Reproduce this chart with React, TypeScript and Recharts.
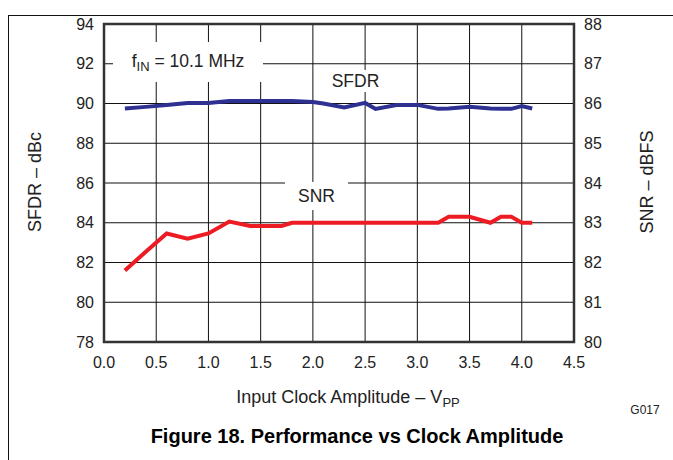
import { ComposedChart, Line, XAxis, YAxis, CartesianGrid, ReferenceArea } from 'recharts';

// Input clock amplitude (Vpp) where the curves were sampled
const amplitude = [0.2, 0.4, 0.6, 0.8, 1.0, 1.2, 1.4, 1.6, 1.7, 1.8, 2.0, 2.1, 2.3, 2.5, 2.6, 2.8, 3.0, 3.2, 3.3, 3.5, 3.7, 3.8, 3.9, 4.0, 4.1];
// SFDR, dBc (left axis)
const sfdr = [89.75, 89.83, 89.92, 90.02, 90.03, 90.12, 90.13, 90.13, 90.13, 90.13, 90.07, 90.0, 89.8, 90.03, 89.73, 89.92, 89.93, 89.73, 89.75, 89.83, 89.75, 89.73, 89.73, 89.87, 89.75];
// SNR, dBFS (right axis)
const snr = [81.8, 82.27, 82.73, 82.6, 82.73, 83.03, 82.92, 82.92, 82.92, 83.0, 83.0, 83.0, 83.0, 83.0, 83.0, 83.0, 83.0, 83.0, 83.15, 83.15, 83.0, 83.15, 83.15, 83.0, 83.0];

const xTicks = [0, 0.5, 1.0, 1.5, 2.0, 2.5, 3.0, 3.5, 4.0, 4.5];
const sfdrTicks = [78, 80, 82, 84, 86, 88, 90, 92, 94];
const snrTicks = [80, 81, 82, 83, 84, 85, 86, 87, 88];

const data = amplitude.map((a, i) => ({ amplitude: a, sfdr: sfdr[i], snr: snr[i] }));

const FONT = '"Liberation Sans", Arial, sans-serif';
const tickStyle = { fill: '#222', fontSize: 16, fontFamily: FONT };

const box = (left: number, top: number, width: number, height: number): React.CSSProperties => ({
  position: 'absolute', left, top, width, height, background: '#fff',
  display: 'flex', alignItems: 'center', justifyContent: 'center',
  fontFamily: FONT, fontSize: 17.5, color: '#222',
});

const title = (left: number, top: number, size: number, rotate = false): React.CSSProperties => ({
  position: 'absolute', left, top, whiteSpace: 'nowrap', fontFamily: FONT, fontSize: size, color: '#222',
  transform: `translate(-50%, -50%)${rotate ? ' rotate(-90deg)' : ''}`,
});

export default function App() {
  return (
    <div style={{ position: 'absolute', left: 0, top: 0, width: 673, height: 460, overflow: 'hidden', background: '#fff' }}>
      {/* page frame */}
      <div style={{ position: 'absolute', left: 8, top: 15, width: 700, height: 500, borderLeft: '1px solid #111', borderTop: '1px solid #111' }} />

      <ComposedChart width={673} height={460} data={data} margin={{ top: 24, right: 39, bottom: 88, left: 44 }}>
        <CartesianGrid yAxisId="left" stroke="#111" strokeWidth={1} />
        <XAxis
          dataKey="amplitude"
          type="number"
          domain={[0, 4.5]}
          ticks={xTicks}
          height={30}
          axisLine={false}
          tickLine={false}
          tickMargin={9}
          tickFormatter={(v: number) => v.toFixed(1)}
          tick={tickStyle}
        />
        <YAxis yAxisId="left" domain={[78, 94]} ticks={sfdrTicks} width={60} axisLine={false} tickLine={false} tickMargin={4} tick={tickStyle} />
        <YAxis yAxisId="right" orientation="right" domain={[80, 88]} ticks={snrTicks} width={60} axisLine={false} tickLine={false} tickMargin={4} tick={{ ...tickStyle, textAnchor: 'start' }} />
        <ReferenceArea yAxisId="left" x1={0} x2={4.5} y1={78} y2={94} fill="none" stroke="#333" strokeWidth={2.5} />
        <Line yAxisId="left" dataKey="sfdr" stroke="#2e3192" strokeWidth={4} dot={false} isAnimationActive={false} />
        <Line yAxisId="right" dataKey="snr" stroke="#ed1c24" strokeWidth={4} dot={false} isAnimationActive={false} />
      </ComposedChart>

      {/* annotations */}
      <div style={box(113, 42, 150, 40)}>
        <span>f<sub style={{ fontSize: 13, verticalAlign: -4 }}>IN</sub> = 10.1 MHz</span>
      </div>
      <div style={box(318, 70, 75, 22)}>SFDR</div>
      <div style={box(285, 182, 63, 28)}>SNR</div>

      {/* axis titles */}
      <div style={title(35, 182, 18, true)}>SFDR – dBc</div>
      <div style={title(647, 182, 18, true)}>SNR – dBFS</div>
      <div style={title(348, 398, 18)}>
        Input Clock Amplitude – V<sub style={{ fontSize: 13, verticalAlign: -4 }}>PP</sub>
      </div>
      <div style={title(645, 410, 12)}>G017</div>
      <div style={{ ...title(357, 436, 20), fontWeight: 'bold', color: '#000' }}>
        Figure 18. Performance vs Clock Amplitude
      </div>
    </div>
  );
}
